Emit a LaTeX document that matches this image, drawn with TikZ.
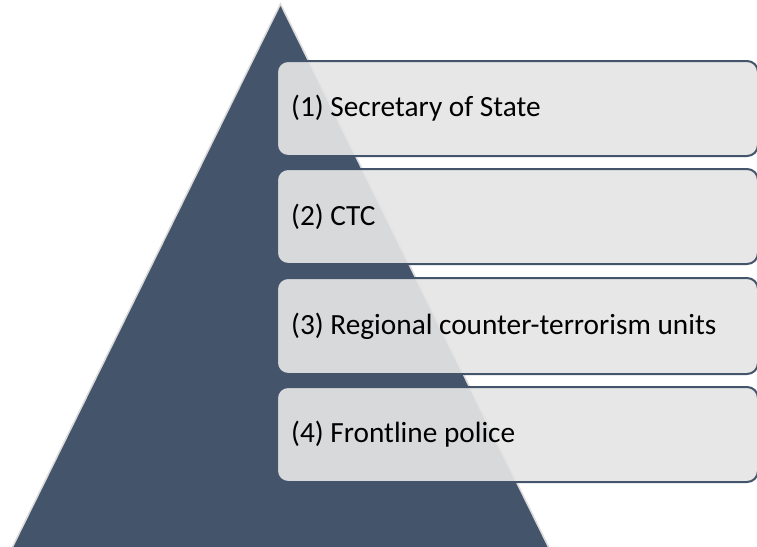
\documentclass[tikz,border=0pt]{standalone}
\usepackage{fontspec}
\setmainfont{Carlito}
\definecolor{tri}{HTML}{44546A}
\definecolor{boxfill}{HTML}{E5E5E5}
\definecolor{triedge}{HTML}{DADADA}
\tikzset{
  levelbox/.style={draw=tri, line width=2pt, fill=boxfill, fill opacity=0.92, rounded corners=11pt},
  leveltext/.style={anchor=west, font=\fontsize{29.3}{34}\selectfont, text=black, inner sep=0pt},
}
\begin{document}
\begin{tikzpicture}[x=1pt,y=-1pt]
\useasboundingbox (0,0) rectangle (757,546);
\clip (0,0) rectangle (757,546);
\fill[white] (0,0) rectangle (757,546);
\coordinate (apex) at (280.5,4);
\coordinate (bl) at (12,548);
\coordinate (br) at (549,548);
\filldraw[fill=tri, draw=triedge, line width=1.5pt] (apex) -- (br) -- (bl) -- cycle;
\draw[levelbox] (277,61) rectangle (758,156);
\draw[levelbox] (277,169) rectangle (758,264);
\draw[levelbox] (277,278) rectangle (758,374);
\draw[levelbox] (277,387) rectangle (758,482);
\node[leveltext] (l1) at (291,108.5) {(1) Secretary of State};
\node[leveltext] (l2) at (291,216.5) {(2) CTC};
\node[leveltext] (l3) at (291,326) {(3) Regional counter-terrorism units};
\node[leveltext] (l4) at (291,434.5) {(4) Frontline police};
\end{tikzpicture}
\end{document}
